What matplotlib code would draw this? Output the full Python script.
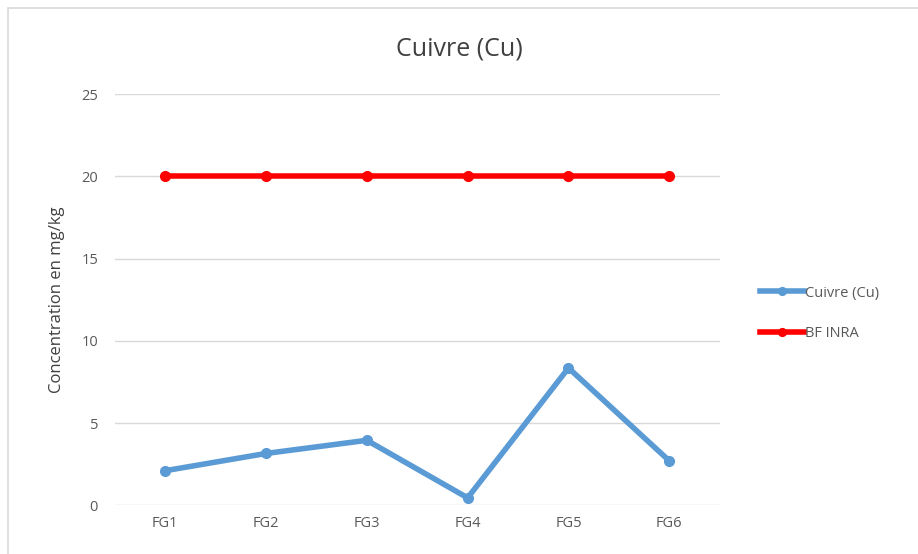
import matplotlib
matplotlib.use("Agg")
import matplotlib.pyplot as plt
from matplotlib.patches import Rectangle

categories = ["FG1", "FG2", "FG3", "FG4", "FG5", "FG6"]
cuivre = [2.1, 3.15, 3.95, 0.45, 8.35, 2.7]
bf_inra = [20, 20, 20, 20, 20, 20]

plt.rcParams['font.family'] = ['Open Sans', 'DejaVu Sans']

fig = plt.figure(figsize=(9.18, 5.54), dpi=100)
fig.patches.append(Rectangle((8/918, -0.1), 1.2, 1.1 - 8/554, transform=fig.transFigure,
                             fill=False, edgecolor="#d9d9d9", linewidth=1.2))
ax = fig.add_axes([0.125, 0.088, 0.659, 0.742])

x = list(range(len(categories)))
ax.plot(x, cuivre, '-o', color="#5b9bd5", linewidth=4, markersize=7, label="Cuivre (Cu)")
ax.plot(x, bf_inra, '-o', color="#ff0000", linewidth=4, markersize=7, label="BF INRA")

ax.set_xlim(-0.5, 5.5)
ax.set_ylim(0, 25)
ax.set_yticks([0, 5, 10, 15, 20, 25])
ax.set_xticks(x)
ax.set_xticklabels(categories)
ax.tick_params(axis='both', length=0, labelsize=10.5, labelcolor="#595959", pad=12)
ax.tick_params(axis='x', pad=8)
ax.grid(axis='y', color="#d9d9d9", linewidth=1)
ax.set_axisbelow(True)
for s in ax.spines.values():
    s.set_visible(False)

ax.set_ylabel("Concentration en mg/kg", fontsize=12, color="#404040", labelpad=12)
fig.text(0.5, 0.912, "Cuivre (Cu)", ha='center', va='center', fontsize=18, color="#404040")

leg = ax.legend(loc='center left', bbox_to_anchor=(1.045, 0.467), frameon=False, fontsize=10.5,
                labelcolor="#595959", handlelength=3.0, handletextpad=0.1, labelspacing=1.75,
                markerscale=0.8)

fig.savefig("out.png", dpi=100)
